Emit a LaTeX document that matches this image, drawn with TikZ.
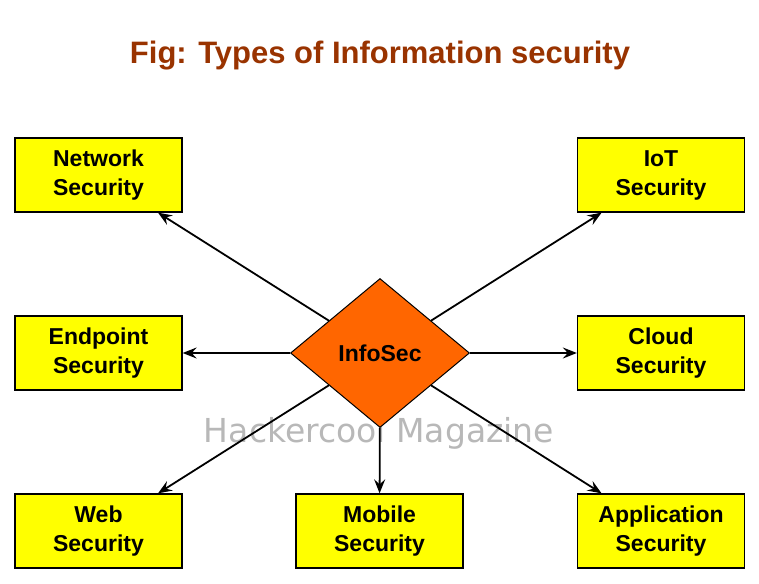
\documentclass[tikz,border=0pt]{standalone}
\usepackage{fontspec}
\setmainfont{Liberation Sans}
\newfontfamily\markfont{DejaVu Sans}
\usetikzlibrary{shapes.geometric,arrows.meta}
\definecolor{titlebrown}{HTML}{993300}
\definecolor{boxyellow}{HTML}{FFFF00}
\definecolor{huborange}{HTML}{FF6600}
\tikzset{
  x=1pt, y=-1pt,
  secbox/.style={
    draw, line width=1.3pt, fill=boxyellow,
    minimum width=167pt, minimum height=74pt,
    align=center, font=\fontsize{23}{29}\selectfont\bfseries
  },
  hub/.style={
    diamond, draw, line width=1pt, fill=huborange, inner sep=0pt,
    minimum width=179pt, minimum height=149pt,
    font=\fontsize{23}{29}\selectfont\bfseries
  },
  link/.style={
    line width=1.8pt, -{Stealth[length=14pt,width=11pt,inset=5pt]}
  }
}
\begin{document}
\begin{tikzpicture}
\useasboundingbox (0,0) rectangle (759,583);
\node[font=\fontsize{31}{36}\selectfont\bfseries, text=titlebrown, anchor=base] (title) at (380,64) {Fig: Types of Information security};

% watermark under everything else
\node[font=\markfont\fontsize{33}{38}\selectfont, text=black!28, anchor=base] (mark) at (379,442) {Hackercool Magazine};

\node[hub] (infosec) at (380,353) {InfoSec};

\node[secbox] (network) at (98.5,175) {Network\\Security};
\node[secbox] (endpoint) at (98.5,353) {Endpoint\\Security};
\node[secbox] (web) at (98.5,531) {Web\\Security};
\node[secbox] (mobile) at (379.5,531) {Mobile\\Security};
\node[secbox] (iot) at (661,175) {IoT\\Security};
\node[secbox] (cloud) at (661,353) {Cloud\\Security};
\node[secbox] (application) at (661,531) {Application\\Security};

\foreach \target in {network,endpoint,web,mobile,iot,cloud,application}
  \draw[link] (infosec) -- (\target);
\end{tikzpicture}
\end{document}
